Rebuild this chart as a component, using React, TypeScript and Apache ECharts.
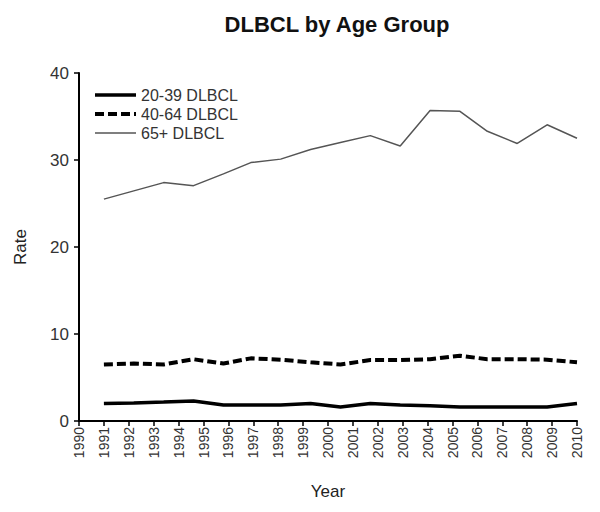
import React, { useEffect, useRef } from "react";
import * as echarts from "echarts";

const title = "DLBCL by Age Group";
const seriesNames = ["20-39 DLBCL", "40-64 DLBCL", "65+ DLBCL"];
// x positions (in years) of the plotted points
const xPos = [1991, 1992.2, 1993.4, 1994.6, 1995.8, 1996.9, 1998.1, 1999.3, 2000.5, 2001.7, 2002.9, 2004.1, 2005.3, 2006.4, 2007.6, 2008.8, 2010];
const age20to39 = [2.0, 2.07, 2.18, 2.3, 1.84, 1.84, 1.84, 2.0, 1.6, 2.0, 1.84, 1.75, 1.6, 1.6, 1.6, 1.6, 2.0];
const age40to64 = [6.5, 6.6, 6.5, 7.1, 6.6, 7.2, 7.05, 6.75, 6.5, 7.0, 7.0, 7.1, 7.5, 7.1, 7.1, 7.05, 6.75];
const age65plus = [25.5, 26.45, 27.4, 27.05, 28.4, 29.7, 30.1, 31.2, 32.0, 32.8, 31.6, 35.7, 35.6, 33.3, 31.9, 34.05, 32.5];

const pairs = (ys: number[]) => ys.map((y, i) => [xPos[i], y]);

export default function App() {
  const ref = useRef<HTMLDivElement>(null);
  useEffect(() => {
    if (!ref.current) return;
    const chart = echarts.init(ref.current, undefined, { renderer: "svg" });
    const font = "Arial, 'Liberation Sans', sans-serif";
    const styles = [
      { color: "#000", width: 3.5, type: "solid" as any },
      { color: "#000", width: 4, type: [9, 4] as any },
      { color: "#555", width: 1.5, type: "solid" as any },
    ];
    chart.setOption({
      animation: false,
      backgroundColor: "#ffffff",
      title: {
        text: title,
        left: 332,
        textAlign: "center",
        top: 8,
        textStyle: { fontFamily: font, fontSize: 22, fontWeight: "bold", color: "#111" },
      },
      legend: {
        orient: "vertical",
        left: 88,
        top: 82,
        itemWidth: 41,
        itemHeight: 14,
        itemGap: 3,
        itemStyle: { opacity: 0 },
        textStyle: { fontFamily: font, fontSize: 16, lineHeight: 14, color: "#333" },
        data: seriesNames.map((name, i) => ({ name, lineStyle: { ...styles[i] } })),
      },
      grid: { left: 79, right: 23, top: 73, bottom: 91 },
      xAxis: {
        type: "value",
        min: 1990,
        max: 2010,
        interval: 1,
        name: "Year",
        nameLocation: "middle",
        nameGap: 62,
        nameTextStyle: { fontFamily: font, fontSize: 17, color: "#222" },
        splitLine: { show: false },
        axisLine: { lineStyle: { color: "#000", width: 2 } },
        axisTick: { length: 5, lineStyle: { color: "#000", width: 1.5 } },
        axisLabel: {
          rotate: 90,
          fontFamily: font,
          fontSize: 14,
          color: "#333",
          margin: 6,
          formatter: (v: number) => String(v),
        },
      },
      yAxis: {
        type: "value",
        min: 0,
        max: 40,
        interval: 10,
        name: "Rate",
        nameLocation: "middle",
        nameGap: 50,
        nameTextStyle: { fontFamily: font, fontSize: 17, color: "#222" },
        splitLine: { show: false },
        axisLine: { show: true, lineStyle: { color: "#000", width: 2 } },
        axisTick: { show: true, length: 5, lineStyle: { color: "#000", width: 1.5 } },
        axisLabel: { fontFamily: font, fontSize: 17, color: "#333", margin: 10 },
      },
      series: [age20to39, age40to64, age65plus].map((vals, i) => ({
        name: seriesNames[i],
        type: "line",
        data: pairs(vals),
        symbol: "none",
        color: styles[i].color,
        lineStyle: { ...styles[i] },
      })),
    });
    return () => chart.dispose();
  }, []);
  return <div ref={ref} style={{ width: 600, height: 512, margin: -8 }} />;
}
